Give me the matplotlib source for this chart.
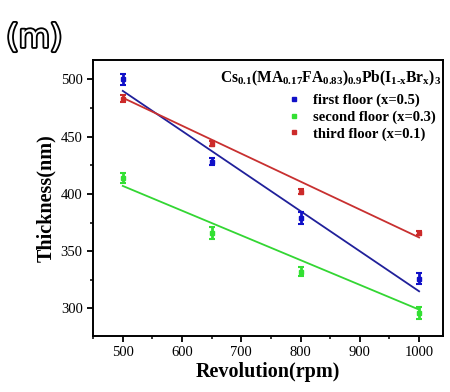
import numpy as np
import matplotlib
matplotlib.use("Agg")
import matplotlib.pyplot as plt
import matplotlib.patheffects as pe
from matplotlib.ticker import MultipleLocator

plt.rcParams['font.family'] = ['Liberation Serif', 'DejaVu Serif']
plt.rcParams['mathtext.fontset'] = 'custom'
plt.rcParams['mathtext.rm'] = 'Liberation Serif:bold'
plt.rcParams['mathtext.bf'] = 'Liberation Serif:bold'
plt.rcParams['mathtext.it'] = 'Liberation Serif:bold'
plt.rcParams['mathtext.default'] = 'bf'

# data
rpm = [500, 650, 800, 1000]
labels = ["first floor (x=0.5)", "second floor (x=0.3)", "third floor (x=0.1)"]
thick_first = [500, 428, 379, 326]
thick_second = [414, 366, 332, 296]
thick_third = [483, 444, 402, 366]
err_first = [5, 3, 5, 5]
err_second = [4, 5, 4, 5]
err_third = [3, 2, 2, 2]
# fitted lines (value at 500 and 1000 rpm)
fit_x = [500, 1000]
fit_first = [490, 315]
fit_second = [407, 299]
fit_third = [484, 362]

pt_colors = ["#1010c8", "#33e033", "#cc2a2a"]
ln_colors = ["#20209a", "#33d633", "#c83030"]

fig = plt.figure(figsize=(4.5, 3.92), dpi=100)
ax = fig.add_axes([0.207, 0.143, 0.777, 0.704])

series = [(thick_first, err_first, fit_first),
          (thick_second, err_second, fit_second),
          (thick_third, err_third, fit_third)]
for (y, e, f), pc, lc, lab in zip(series, pt_colors, ln_colors, labels):
    ax.plot(fit_x, f, color=lc, lw=1.3, zorder=2)
    ax.errorbar(rpm, y, yerr=e, fmt='none', ecolor=pc, elinewidth=2,
                capsize=2.5, capthick=1.5, zorder=3)
    ax.plot(rpm, y, 's', color=pc, ms=2.5, zorder=4, label=lab)

ax.set_xlim(450, 1040)
ax.set_ylim(276, 517)
ax.xaxis.set_major_locator(MultipleLocator(100))
ax.xaxis.set_minor_locator(MultipleLocator(50))
ax.yaxis.set_major_locator(MultipleLocator(50))
ax.yaxis.set_minor_locator(MultipleLocator(25))
ax.tick_params(which='major', direction='out', length=4, width=1.3, labelsize=10.5)
ax.tick_params(which='minor', direction='out', length=2.5, width=1.1)
for s in ax.spines.values():
    s.set_linewidth(1.4)

ax.set_xlabel("Revolution(rpm)", fontsize=14.5, fontweight='bold', labelpad=2)
ax.set_ylabel("Thickness(nm)", fontsize=14.5, fontweight='bold', labelpad=3)

ax.text(0.995, 0.935,
        r'Cs$_{0.1}$(MA$_{0.17}$FA$_{0.83}$)$_{0.9}$Pb(I$_{1\text{-}x}$Br$_{x}$)$_{3}$',
        transform=ax.transAxes, ha='right', va='center', fontsize=11.2,
        fontweight='bold')

leg = ax.legend(loc='upper right', bbox_to_anchor=(1.018, 0.925), frameon=False,
                handlelength=1.0, handletextpad=0.8, labelspacing=0.22,
                prop={'weight': 'bold', 'size': 10.5})

fig.text(0.014, 0.88, "(m)", fontsize=23, color='white', family='DejaVu Sans',
         path_effects=[pe.Stroke(linewidth=2.6, foreground='black'), pe.Normal()])

fig.savefig("out.png", dpi=100)
